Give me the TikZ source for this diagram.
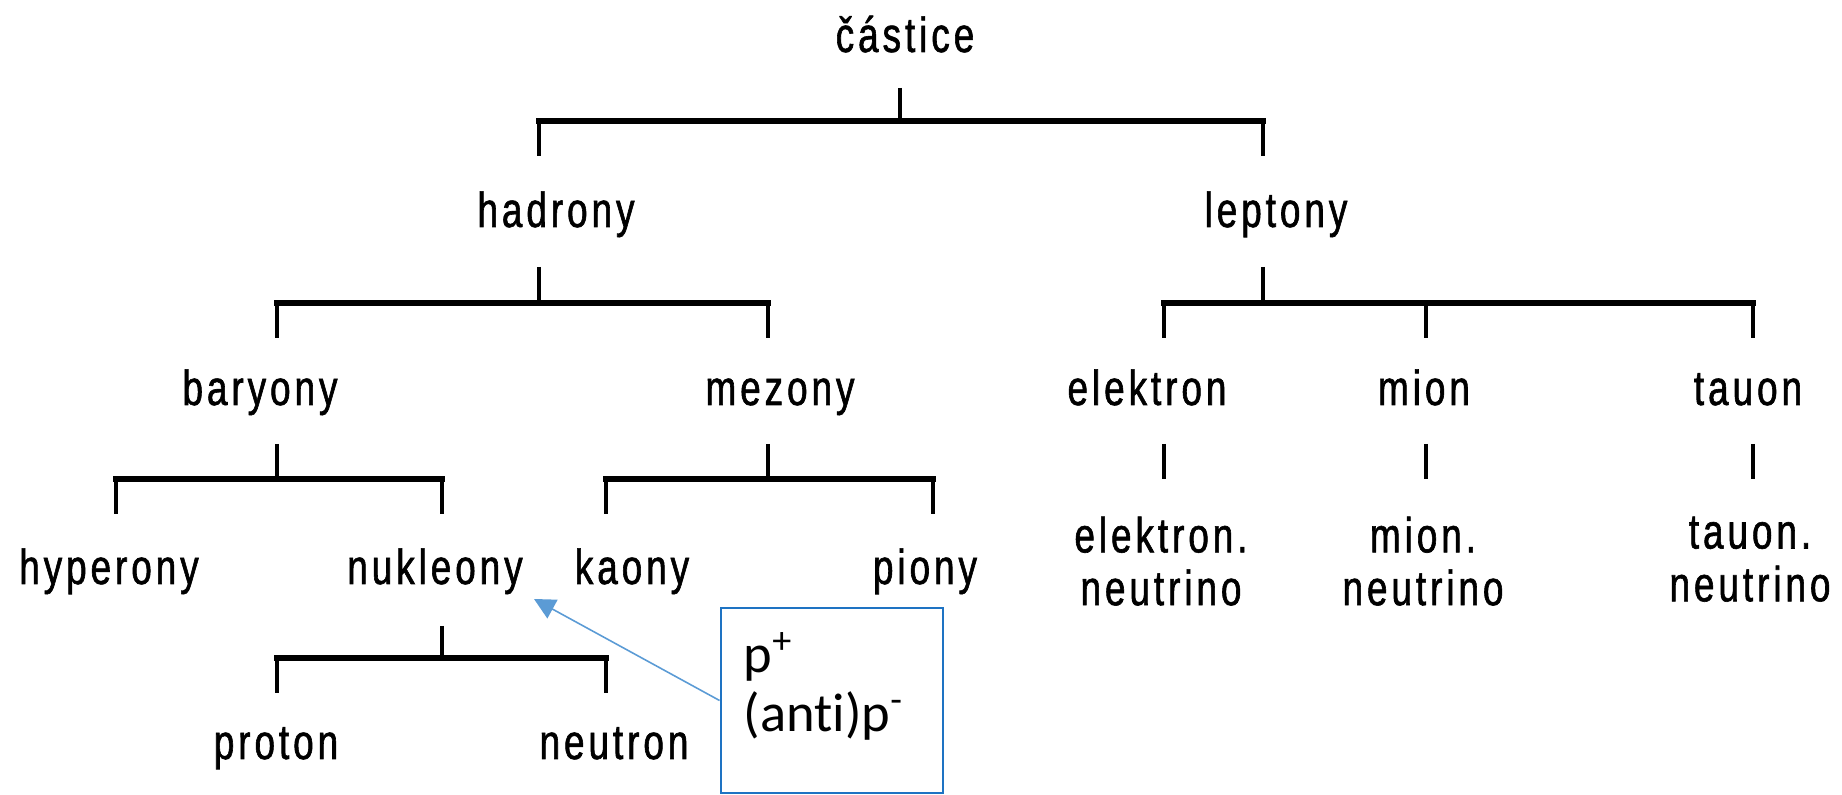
\documentclass[tikz,border=0pt]{standalone}
\usepackage{fontspec}
\setmainfont{Liberation Sans}
\newfontfamily\tfont[FakeStretch=0.75,LetterSpace=8,FakeBold=1.2]{Liberation Sans}
\newfontfamily\bfont[Ligatures=NoCommon]{Carlito}
\usetikzlibrary{arrows.meta}
\definecolor{boxblue}{RGB}{30,115,195}
\definecolor{arrowblue}{RGB}{91,155,213}
\tikzset{
  tlabel/.style={font=\tfont\fontsize{14}{15}\selectfont, inner sep=0pt, anchor=base},
  tlabel2/.style={font=\tfont\fontsize{14}{15}\selectfont, inner sep=0pt, anchor=north, align=center},
  stemline/.style={line width=1pt, black},
  barline/.style={line width=1.5pt, black, line cap=rect},
  calloutbox/.style={draw=boxblue, line width=0.8pt, minimum width=2.22cm, minimum height=1.85cm, inner sep=0pt},
  callouttext/.style={font=\bfont\fontsize{15.5}{16.8}\selectfont, inner sep=0pt, anchor=north west, align=left},
  pointer/.style={draw=arrowblue, line width=0.45pt, -{Triangle[length=6pt,width=6pt]}, arrowblue}
}
\begin{document}
\begin{tikzpicture}[x=0.01cm,y=-0.01cm]
\useasboundingbox (0,0) rectangle (1842,795);

% labels
\node[tlabel] (castice) at (905,52) {částice};
\node[tlabel] (hadrony) at (556,227) {hadrony};
\node[tlabel] (leptony) at (1276,227) {leptony};
\node[tlabel] (baryony) at (260,405) {baryony};
\node[tlabel] (mezony) at (780,405) {mezony};
\node[tlabel] (elektron) at (1147,405) {elektron};
\node[tlabel] (mion) at (1424,405) {mion};
\node[tlabel] (tauon) at (1748,405) {tauon};
\node[tlabel] (hyperony) at (109,584) {hyperony};
\node[tlabel] (nukleony) at (435,584) {nukleony};
\node[tlabel] (kaony) at (632,584) {kaony};
\node[tlabel] (piony) at (925,584) {piony};
\node[tlabel2] (eneutrino) at (1161,516) {elektron.\\neutrino};
\node[tlabel2] (mneutrino) at (1423,516) {mion.\\neutrino};
\node[tlabel2] (tneutrino) at (1750,516) {tauon.\\neutrino};
\node[tlabel] (proton) at (276,759) {proton};
\node[tlabel] (neutron) at (614,759) {neutron};

% junction coordinates
\coordinate (c-s) at (900,88);   \coordinate (c-j) at (900,121);
\coordinate (h-l) at (539,156);  \coordinate (l-l) at (1263,156);
\coordinate (h-s) at (539,267);  \coordinate (h-j) at (539,303);
\coordinate (l-s) at (1263,267); \coordinate (l-j) at (1263,303);
\coordinate (b-l) at (277,338);  \coordinate (m-l) at (768,338);
\coordinate (e-l) at (1164,338); \coordinate (mi-l) at (1426,338); \coordinate (t-l) at (1753,338);
\coordinate (b-s) at (277,444);  \coordinate (b-j) at (277,479);
\coordinate (m-s) at (768,444);  \coordinate (m-j) at (768,479);
\coordinate (hy-l) at (116,514); \coordinate (n-l) at (442,514);
\coordinate (k-l) at (606,514);  \coordinate (p-l) at (933,514);
\coordinate (e-s) at (1164,444); \coordinate (e-e) at (1164,479);
\coordinate (mi-s) at (1426,444); \coordinate (mi-e) at (1426,479);
\coordinate (t-s) at (1753,444); \coordinate (t-e) at (1753,479);
\coordinate (n-s) at (442,626);  \coordinate (n-j) at (442,658);
\coordinate (pr-l) at (277,693); \coordinate (ne-l) at (606,693);

% castice -> hadrony, leptony
\draw[stemline] (c-s) -- (c-j);
\draw[barline] (h-l |- c-j) -- (l-l |- c-j);
\draw[stemline] (h-l |- c-j) -- (h-l);
\draw[stemline] (l-l |- c-j) -- (l-l);

% hadrony -> baryony, mezony
\draw[stemline] (h-s) -- (h-j);
\draw[barline] (b-l |- h-j) -- (m-l |- h-j);
\draw[stemline] (b-l |- h-j) -- (b-l);
\draw[stemline] (m-l |- h-j) -- (m-l);

% leptony -> elektron, mion, tauon
\draw[stemline] (l-s) -- (l-j);
\draw[barline] (e-l |- l-j) -- (t-l |- l-j);
\draw[stemline] (e-l |- l-j) -- (e-l);
\draw[stemline] (mi-l |- l-j) -- (mi-l);
\draw[stemline] (t-l |- l-j) -- (t-l);

% baryony -> hyperony, nukleony
\draw[stemline] (b-s) -- (b-j);
\draw[barline] (hy-l |- b-j) -- (n-l |- b-j);
\draw[stemline] (hy-l |- b-j) -- (hy-l);
\draw[stemline] (n-l |- b-j) -- (n-l);

% mezony -> kaony, piony
\draw[stemline] (m-s) -- (m-j);
\draw[barline] (k-l |- m-j) -- (p-l |- m-j);
\draw[stemline] (k-l |- m-j) -- (k-l);
\draw[stemline] (p-l |- m-j) -- (p-l);

% leptons -> neutrinos
\draw[stemline] (e-s) -- (e-e);
\draw[stemline] (mi-s) -- (mi-e);
\draw[stemline] (t-s) -- (t-e);

% nukleony -> proton, neutron
\draw[stemline] (n-s) -- (n-j);
\draw[barline] (pr-l |- n-j) -- (ne-l |- n-j);
\draw[stemline] (pr-l |- n-j) -- (pr-l);
\draw[stemline] (ne-l |- n-j) -- (ne-l);

% callout
\node[calloutbox] (box) at (832,700.5) {};
\node[callouttext] (boxtext) at (743,632) {p\textsuperscript{+}\\(anti)p\textsuperscript{-}};
\coordinate (tip) at (534,599);
\draw[pointer] (box.west) -- (tip);
\end{tikzpicture}
\end{document}
